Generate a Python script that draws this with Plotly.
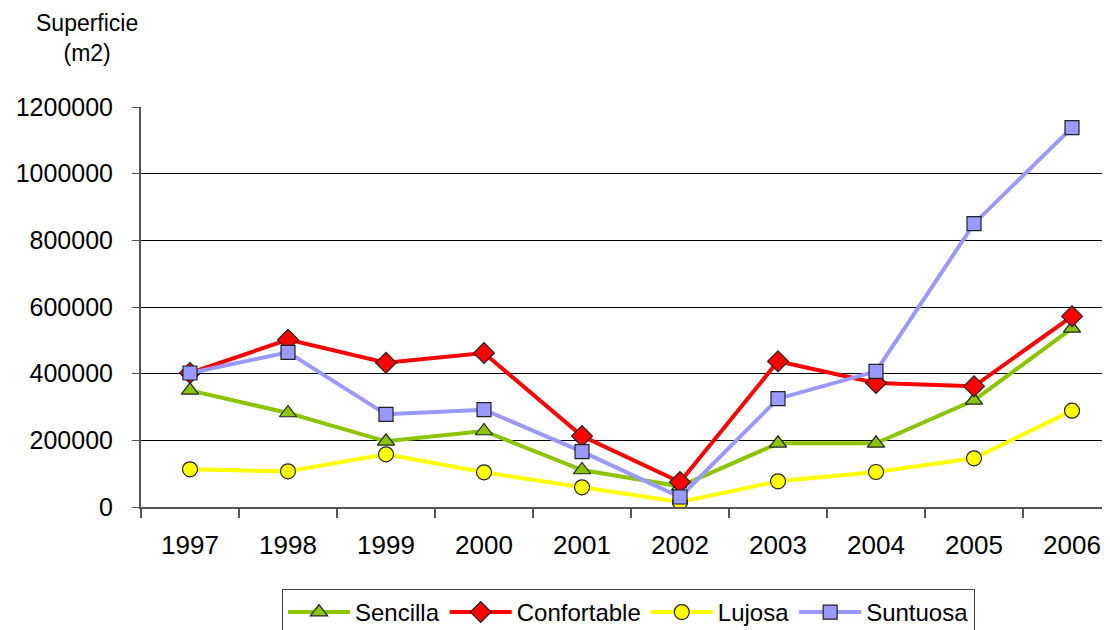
import plotly.graph_objects as go

years = ["1997", "1998", "1999", "2000", "2001", "2002", "2003", "2004", "2005", "2006"]
sencilla = [350000, 282000, 197000, 228000, 111000, 62000, 191000, 191000, 320000, 536000]
confortable = [402000, 502000, 433000, 462000, 213000, 75000, 437000, 372000, 362000, 572000]
lujosa = [113000, 107000, 158000, 104000, 59000, 15000, 77000, 105000, 146000, 289000]
suntuosa = [402000, 464000, 278000, 292000, 166000, 30000, 325000, 407000, 850000, 1138000]

y_ticks = [0, 200000, 400000, 600000, 800000, 1000000, 1200000]

series = [
    ("Sencilla", sencilla, "#8CC400", "#8CC400", "triangle-up", 15),
    ("Confortable", confortable, "#FF0000", "#FF0000", "diamond", 16),
    ("Lujosa", lujosa, "#FFFF00", "#FFFF00", "circle", 15),
    ("Suntuosa", suntuosa, "#9999FF", "#9999FF", "square", 14),
]

fig = go.Figure()
for name, vals, lc, mc, sym, sz in series:
    fig.add_trace(go.Scatter(
        x=years, y=vals, name=name, mode="lines+markers",
        line=dict(color=lc, width=4),
        marker=dict(symbol=sym, size=sz, color=mc, line=dict(color="#222222", width=1.2)),
    ))

# page body has an 8px margin in the browser
W, H = 1102, 622
L, T = 133, 99
PW = W - L
B = H - T - 400
fig.update_layout(
    width=W, height=H,
    margin=dict(l=L, r=0, t=T, b=B, autoexpand=False),
    paper_bgcolor="white", plot_bgcolor="white",
    font=dict(family="Liberation Sans, Arial, sans-serif", color="#000000"),
    showlegend=True,
    legend=dict(
        orientation="h", x=(282 - 141) / PW, xanchor="left", y=(507 - 589) / 400, yanchor="top",
        font=dict(size=24), bordercolor="#404040", borderwidth=1, bgcolor="white",
        itemwidth=62, tracegroupgap=0,
    ),
    annotations=[dict(
        text="Superficie<br>(m2)", xref="paper", yref="paper",
        x=(87 - 141) / PW, y=(507 - 38) / 400, xanchor="center", yanchor="middle",
        showarrow=False, font=dict(size=23),
    )],
)
fig.update_xaxes(
    type="category", range=[-0.5, -0.5 + PW / 98], tickson="boundaries",
    showgrid=False, showline=True, linecolor="#555555", linewidth=2,
    ticks="outside", ticklen=9, tickcolor="#555555", tickwidth=2,
    tickfont=dict(size=26), ticklabelstandoff=14, zeroline=False,
)
fig.update_yaxes(
    range=[0, 1200000], tickvals=y_ticks, ticktext=[str(v) for v in y_ticks],
    showgrid=True, gridcolor="#000000", gridwidth=1,
    showline=True, linecolor="#555555", linewidth=2,
    ticks="outside", ticklen=7, tickcolor="#555555", tickwidth=1,
    tickfont=dict(size=25), ticklabelstandoff=14, zeroline=False,
)
fig.write_html("out.html")
